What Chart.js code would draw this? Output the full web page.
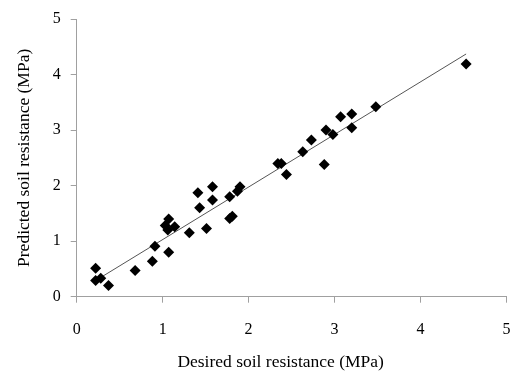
<!DOCTYPE html>
<html lang="en">
<head>
    <meta charset="UTF-8">
    <title>Desired vs predicted soil resistance</title>
    <script src="https://cdn.jsdelivr.net/npm/chart.js"></script>
    <style>
        html, body { margin: 0; padding: 0; background: #fff; }
        canvas { display: block; }
    </style>
</head>
<body>
    <canvas id="scatterChart" width="512" height="371"></canvas>
    <script>
        // values (MPa)
        const desired = [0.22, 0.22, 0.28, 0.37, 0.68, 0.88, 0.91, 1.07, 1.03, 1.07, 1.06, 1.14,
            1.31, 1.51, 1.41, 1.43, 1.58, 1.58, 1.78, 1.78, 1.81, 1.87, 1.90, 2.34, 2.38, 2.44,
            2.63, 2.73, 2.88, 2.90, 2.98, 3.07, 3.20, 3.20, 3.48, 4.53];
        const predicted = [0.51, 0.29, 0.33, 0.20, 0.47, 0.64, 0.91, 0.80, 1.28, 1.40, 1.20, 1.26,
            1.15, 1.23, 1.87, 1.60, 1.98, 1.74, 1.80, 1.41, 1.45, 1.90, 1.98, 2.40, 2.40, 2.20,
            2.61, 2.82, 2.38, 3.00, 2.92, 3.24, 3.29, 3.04, 3.42, 4.19];

        // linear trend line end points
        const trendX = [0.22, 4.53];
        const trendY = [0.29, 4.37];

        const axisTicks = [0, 1, 2, 3, 4, 5];

        const serif = "'Liberation Serif', 'Times New Roman', serif";
        const axisColor = '#a0a0a0';

        const points = desired.map((x, i) => ({ x: x, y: predicted[i] }));
        const trend = trendX.map((x, i) => ({ x: x, y: trendY[i] }));

        const ctx = document.getElementById('scatterChart').getContext('2d');
        new Chart(ctx, {
            type: 'scatter',
            data: {
                datasets: [
                    {
                        label: 'Data',
                        data: points,
                        pointStyle: 'rectRot',
                        pointRadius: 5.5,
                        backgroundColor: '#000',
                        borderColor: '#000',
                        borderWidth: 0,
                        order: 1
                    },
                    {
                        label: 'Trend',
                        data: trend,
                        showLine: true,
                        pointRadius: 0,
                        borderColor: '#555',
                        borderWidth: 1,
                        order: 2
                    }
                ]
            },
            options: {
                responsive: false,
                animation: false,
                layout: { padding: { top: 19, right: 4, left: 0, bottom: 0 } },
                plugins: {
                    legend: { display: false },
                    tooltip: { enabled: false }
                },
                scales: {
                    x: {
                        type: 'linear',
                        min: axisTicks[0],
                        max: axisTicks[axisTicks.length - 1],
                        afterBuildTicks: s => { s.ticks = axisTicks.map(v => ({ value: v })); },
                        afterFit: s => {
                            s.height = 74.3;
                            s.paddingLeft = 0;
                            s.paddingRight = 0;
                        },
                        grid: {
                            drawOnChartArea: false,
                            drawTicks: true,
                            tickLength: 6,
                            color: axisColor
                        },
                        border: { color: axisColor, width: 1 },
                        ticks: {
                            padding: 17,
                            color: '#000',
                            font: { family: serif, size: 16 }
                        },
                        title: {
                            display: true,
                            // trailing spaces nudge the centred title a little left, as in the original
                            text: 'Desired soil resistance (MPa)' + '\u00a0'.repeat(5),
                            color: '#000',
                            font: { family: serif, size: 17.5, lineHeight: 1 },
                            padding: { top: 0, bottom: 0 }
                        }
                    },
                    y: {
                        type: 'linear',
                        min: axisTicks[0],
                        max: axisTicks[axisTicks.length - 1],
                        afterBuildTicks: s => { s.ticks = axisTicks.map(v => ({ value: v })); },
                        afterFit: s => {
                            s.width = 76.7;
                            s.paddingTop = 0;
                            s.paddingBottom = 0;
                        },
                        grid: {
                            drawOnChartArea: false,
                            drawTicks: true,
                            tickLength: 6,
                            color: axisColor
                        },
                        border: { color: axisColor, width: 1 },
                        ticks: {
                            padding: 10,
                            color: '#000',
                            font: { family: serif, size: 16 }
                        },
                        title: {
                            display: true,
                            text: 'Predicted soil resistance (MPa)',
                            color: '#000',
                            font: { family: serif, size: 17.5, lineHeight: 1 },
                            padding: { top: 16, bottom: 0 }
                        }
                    }
                }
            }
        });
    </script>
</body>
</html>
